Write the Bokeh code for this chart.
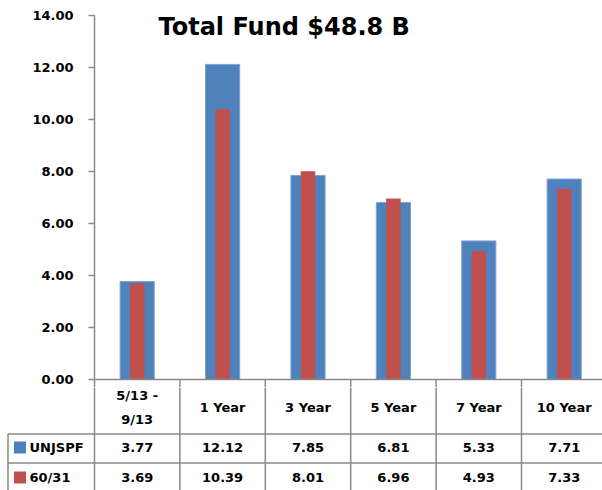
from bokeh.plotting import figure
from bokeh.layouts import column
from bokeh.models import Range1d, FixedTicker, NumeralTickFormatter, Label, ColumnDataSource
from bokeh.core.properties import value
from bokeh.embed import file_html
from bokeh.resources import INLINE

# ---- data ----
categories = ["5/13 -\n9/13", "1 Year", "3 Year", "5 Year", "7 Year", "10 Year"]
unjspf = [3.77, 12.12, 7.85, 6.81, 5.33, 7.71]
bench = [3.69, 10.39, 8.01, 6.96, 4.93, 7.33]
series_names = ["UNJSPF", "60/31"]
y_ticks = [0, 2, 4, 6, 8, 10, 12, 14]
title_text = "Total Fund $48.8 B"

BLUE = "#4F81BD"
RED = "#C0504D"
GRID = "#8a8a8a"
FONT = "DejaVu Sans"

W = 85.4          # px per category
LEFT = 94         # px for axis area
FW = 602
XEND = (FW - LEFT) / W
PXU = 26.0        # px per y unit
YSTART = -8 / PXU

n = len(categories)
xs = [i + 0.5 for i in range(n)]

# ---- chart ----
p = figure(width=FW, height=387, output_backend="svg", toolbar_location=None,
           x_range=Range1d(0, XEND), y_range=Range1d(YSTART, 14),
           x_axis_location=None, min_border_left=LEFT, min_border_right=0,
           min_border_top=15, min_border_bottom=0)
p.frame_align = False
p.outline_line_color = None
p.xgrid.visible = False
p.ygrid.visible = False

src = ColumnDataSource(dict(x=xs, a=unjspf, b=bench))
p.vbar(x="x", top="a", bottom=0, width=0.4, source=src, fill_color=BLUE,
       line_color="#7fa3d3", line_width=1)
p.vbar(x="x", top="b", bottom=0, width=0.17, source=src, fill_color=RED, line_color=None)

# table top line (category axis) and column separators below it
p.segment(x0=[0], y0=[0], x1=[n + 0.5], y1=[0], line_color=GRID, line_width=1.5)
p.segment(x0=list(range(1, n + 1)), y0=[0] * n, x1=list(range(1, n + 1)), y1=[YSTART] * n,
          line_color=GRID, line_width=1.5)

ya = p.yaxis[0]
ya.ticker = FixedTicker(ticks=y_ticks)
ya.bounds = (YSTART, 14)
ya.formatter = NumeralTickFormatter(format="0.00")
ya.major_label_text_font = FONT
ya.major_label_text_font_style = "bold"
ya.major_label_text_font_size = "13px"
ya.major_label_text_color = "black"
ya.major_label_standoff = 15
ya.axis_line_color = GRID
ya.axis_line_width = 1.5
ya.major_tick_line_color = GRID
ya.major_tick_line_width = 1.5
ya.major_tick_out = 6
ya.major_tick_in = 0
ya.minor_tick_line_color = None

p.add_layout(Label(x=64 / W, y=13.54, text=title_text, text_font=FONT,
                   text_font_style="bold", text_font_size="24px",
                   text_color="black", text_baseline="alphabetic"))

# ---- data table ----
XS0 = -LEFT / W
t = figure(width=FW, height=103, output_backend="svg", toolbar_location=None,
           x_range=Range1d(XS0, XEND), y_range=Range1d(-490, -387),
           x_axis_location=None, y_axis_location=None,
           min_border_left=0, min_border_right=0, min_border_top=0, min_border_bottom=0)
t.frame_align = False
t.outline_line_color = None
t.xgrid.visible = False
t.ygrid.visible = False

xleft = XS0 + 7.5 / W
# vertical lines
t.segment(x0=list(range(n + 1)), y0=[-387] * (n + 1), x1=list(range(n + 1)), y1=[-490] * (n + 1),
          line_color=GRID, line_width=1.5)
# left border
t.segment(x0=[xleft], y0=[-433.5], x1=[xleft], y1=[-490], line_color=GRID, line_width=1.5)
# horizontal row lines
t.segment(x0=[xleft, xleft], y0=[-433.5, -462.5], x1=[n + 0.5, n + 0.5], y1=[-433.5, -462.5],
          line_color=GRID, line_width=1.5)

# header
t.text(x=xs, y=[-407] * n, text=categories, text_font=value(FONT), text_font_style="bold",
       text_font_size="13px", text_align="center", text_baseline="middle",
       text_color="black", text_line_height=1.6)

rows_y = [-447, -477]
# legend markers
t.scatter(x=[XS0 + 19.5 / W] * 2, y=rows_y, marker="square", size=12,
          fill_color=[BLUE, RED], line_color=None)
t.text(x=[XS0 + 29 / W] * 2, y=rows_y, text=series_names, text_font=value(FONT),
       text_font_style="bold", text_font_size="13px", text_align="left",
       text_baseline="middle", text_color="black")
# values
for vals, yy in zip([unjspf, bench], rows_y):
    t.text(x=xs, y=[yy] * n, text=[f"{v:.2f}" for v in vals], text_font=value(FONT),
           text_font_style="bold", text_font_size="13px", text_align="center",
           text_baseline="middle", text_color="black")

layout = column(p, t, spacing=0)
open("out.html", "w").write(file_html(layout, INLINE))
